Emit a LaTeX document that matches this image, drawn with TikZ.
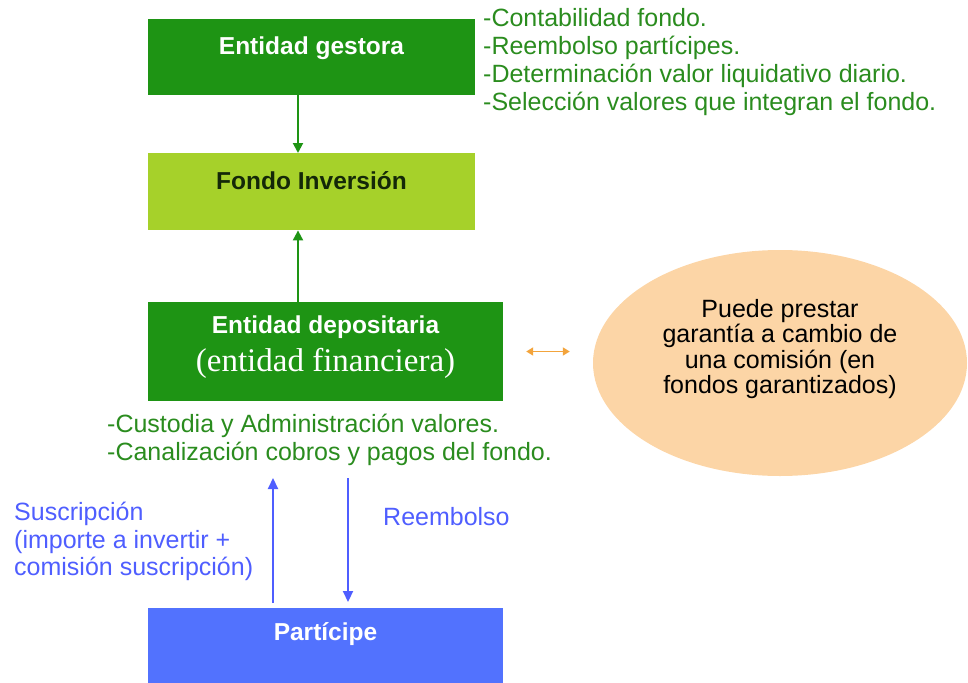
\documentclass[tikz,border=0pt]{standalone}
\usepackage{xcolor}
\usepackage{fontspec}
\setmainfont{Liberation Sans}
\newfontfamily\serifface{Liberation Serif}
\usepackage{tikz}
\usetikzlibrary{arrows.meta, shapes.geometric, positioning}

\definecolor{darkgreen}{HTML}{1E9414}
\definecolor{limegreen}{HTML}{A6D12A}
\definecolor{textgreen}{HTML}{2A8C1E}
\definecolor{partblue}{HTML}{5272FE}
\definecolor{textblue}{HTML}{4F5EFF}
\definecolor{peach}{HTML}{FCD5A6}
\definecolor{arroworange}{HTML}{F3A43C}
\definecolor{darktext}{HTML}{142808}

\tikzset{
  box/.style={rectangle, inner sep=0pt, minimum width=327pt, anchor=north,
    font=\fontsize{24.5}{28}\selectfont\bfseries},
  tasklist/.style={inner sep=0pt, align=left, text=textgreen, anchor=north west,
    font=\fontsize{25}{28}\selectfont},
  flowlabel/.style={inner sep=0pt, align=left, text=textblue,
    font=\fontsize{25}{27.5}\selectfont},
  greenarrow/.style={draw=darkgreen, line width=2pt, -{Triangle[length=10pt,width=10pt]}},
  bluearrow/.style={draw=textblue, line width=2.2pt, -{Triangle[length=11pt,width=10pt]}},
  orangearrow/.style={draw=arroworange, line width=1.8pt,
    {Triangle[length=7pt,width=8pt]}-{Triangle[length=7pt,width=8pt]}}
}

\begin{document}
\begin{tikzpicture}[x=1pt, y=-1pt]
    \useasboundingbox (0,0) rectangle (968,682);

    \node (gestora) [box, fill=darkgreen, text=white, text height=35pt, text depth=41pt] at (311.5,19) {Entidad gestora};
    \node (fondo) [box, fill=limegreen, text=darktext, text height=36pt, text depth=41pt] at (311.5,153) {Fondo Inversión};
    \node (depositaria) [box, fill=darkgreen, text=white, anchor=center, minimum width=355pt, minimum height=99pt, align=center] at (325.5,351.5)
        {Entidad depositaria\\[9pt]{\serifface\mdseries\fontsize{33}{36}\selectfont (entidad financiera)\rule[-16pt]{0pt}{1pt}}};
    \node (participe) [box, fill=partblue, text=white, minimum width=355pt, text height=32pt, text depth=44pt] at (325.5,608) {Partícipe};
    \node (garantia) [ellipse, fill=peach, inner sep=0pt, minimum width=374pt, minimum height=226pt] at (780,363) {};
    \node (garantiatext) [align=center, inner sep=0pt, font=\fontsize{25}{25.5}\selectfont] at ([yshift=14pt]garantia.center)
        {Puede prestar\\garantía a cambio de\\una comisión (en\\fondos garantizados)};

    \node (gestoratareas) [tasklist] at (483,8)
        {-Contabilidad fondo.\\-Reembolso partícipes.\\-Determinación valor liquidativo diario.\\-Selección valores que integran el fondo.};
    \node (depositariatareas) [tasklist] at (107,414)
        {-Custodia y Administración valores.\\-Canalización cobros y pagos del fondo.};
    \node (suscripcion) [flowlabel, anchor=north west] at (14,502)
        {Suscripción\\(importe a invertir +\\comisión suscripción)};
    \node (reembolso) [flowlabel, anchor=base west] at (383,525) {Reembolso};

    \coordinate (axis) at (298,0);
    \coordinate (suscripciontop) at (273,478);
    \coordinate (reembolsotop) at (348,478);

    \draw [greenarrow] (gestora.south -| axis) -- (fondo.north -| axis);
    \draw [greenarrow] (depositaria.north -| axis) -- (fondo.south -| axis);
    \draw [orangearrow, shorten <=23pt, shorten >=23pt] (depositaria.east) -- (depositaria.east -| garantia.west);
    \draw [bluearrow, shorten <=5pt] (participe.north -| suscripciontop) -- (suscripciontop);
    \draw [bluearrow, shorten >=6pt] (reembolsotop) -- (participe.north -| reembolsotop);
\end{tikzpicture}
\end{document}
